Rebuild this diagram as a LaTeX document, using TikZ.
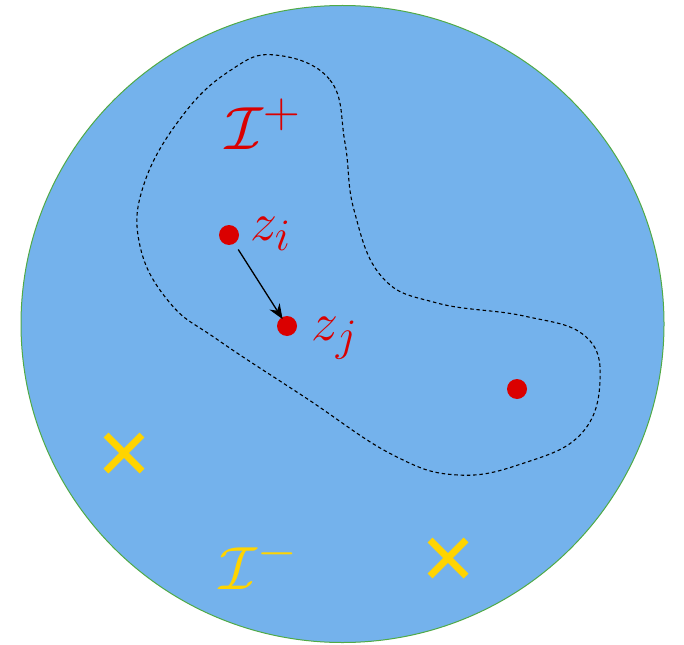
\documentclass[tikz,border=0pt]{standalone}
\usetikzlibrary{arrows.meta}
\definecolor{diskblue}{RGB}{116,178,236}
\definecolor{diskedge}{RGB}{80,170,70}
\definecolor{ptred}{RGB}{218,0,0}
\definecolor{crossyel}{RGB}{255,212,0}
\tikzset{
  dot/.style={circle,fill=ptred,inner sep=0pt,minimum size=20pt},
  lbl/.style={anchor=base west,inner sep=0pt,text=ptred,font=\Huge},
  crossmark/.style={draw=crossyel,line width=7pt},
  region/.style={draw=black,line width=1.1pt,dash pattern=on 3.5pt off 2.8pt},
}
\begin{document}
\begin{tikzpicture}[x=1pt,y=-1pt]
\useasboundingbox (0,0) rectangle (684,644);
\fill[diskblue,draw=diskedge,line width=1pt] (342.5,324) ellipse [x radius=321.5,y radius=318.5];
\draw[region] plot[smooth cycle,tension=0.7] coordinates {
 (275,55) (330,80) (345,143) (354,210) (382,277) (437,303) (524,316)
 (585,336) (600,381) (581,434) (524,463) (458,475) (393,455) (306,398)
 (218,340) (170,303) (140,246) (144,184) (183,115) (231,70)};
\node[dot] (zi) at (229,235) {};
\node[dot] (zj) at (287,326) {};
\node[dot] (zk) at (517,389) {};
\draw[-{Stealth[length=15pt,width=12pt,inset=5pt]},line width=1.3pt,shorten <=7pt,shorten >=-2pt] (zi) -- (zj);
\node[lbl,scale=2.17] (lzi) at (250,240) {$z_i$};
\node[lbl,scale=2.17] (lzj) at (311,340) {$z_j$};
\node[lbl,scale=2.45] (ip) at (225,150) {$\mathcal{I}^+$};
\node[lbl,text=crossyel,scale=2.45] (im) at (219,589) {$\mathcal{I}^-$};
\coordinate (c1) at (124,453);
\coordinate (c2) at (448,558);
\draw[crossmark] ([shift={(-18,-18)}]c1) -- ([shift={(18,18)}]c1) ([shift={(-18,18)}]c1) -- ([shift={(18,-18)}]c1);
\draw[crossmark] ([shift={(-18,-18)}]c2) -- ([shift={(18,18)}]c2) ([shift={(-18,18)}]c2) -- ([shift={(18,-18)}]c2);
\end{tikzpicture}
\end{document}
